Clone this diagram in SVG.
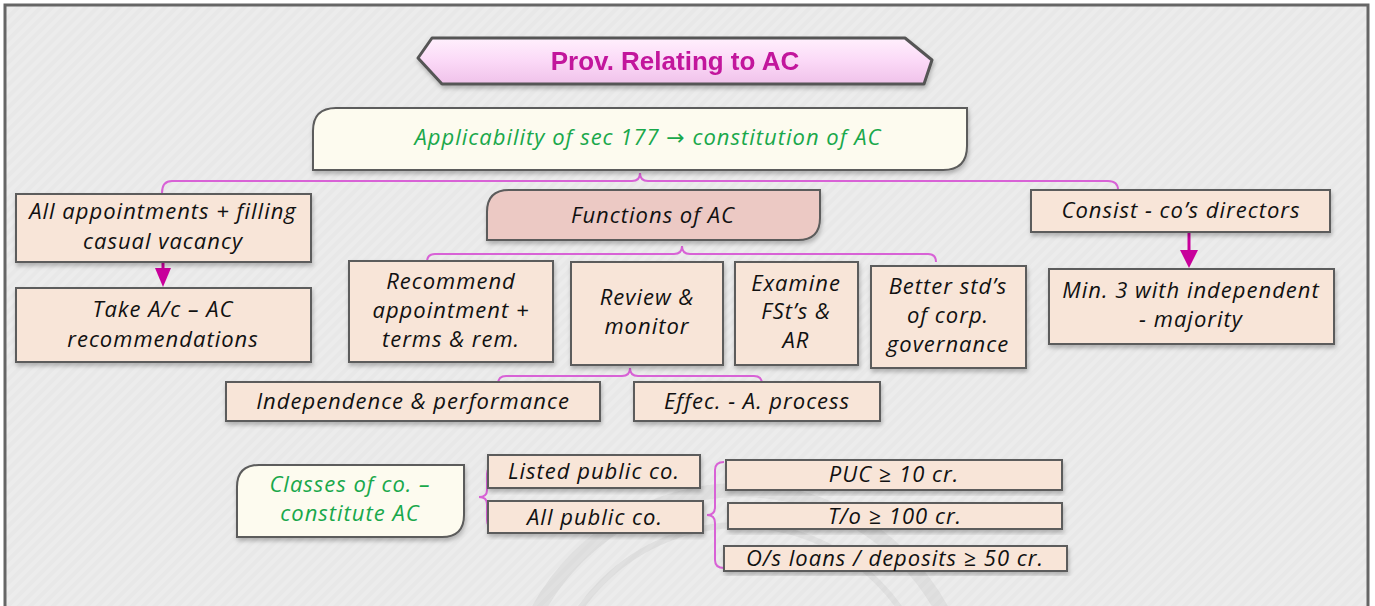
<svg xmlns="http://www.w3.org/2000/svg" width="1375" height="606" viewBox="0 0 1375 606">
<defs>
<pattern id="bgp" width="8" height="8" patternUnits="userSpaceOnUse" patternTransform="rotate(45)">
<rect width="8" height="8" fill="#ececec"/>
<rect width="4" height="8" fill="#e8e8e8"/>
</pattern>
<linearGradient id="tg" x1="0" y1="0" x2="0" y2="1">
<stop offset="0" stop-color="#fff0fd"/>
<stop offset="0.5" stop-color="#fbd9f7"/>
<stop offset="1" stop-color="#f0c2ea"/>
</linearGradient>
<filter id="sh" x="-10%" y="-10%" width="120%" height="130%">
<feDropShadow dx="1" dy="3" stdDeviation="2" flood-color="#000" flood-opacity="0.25"/>
</filter>
</defs>
<style>
.bx{fill:#f8e5d8;stroke:#5b5b5b;stroke-width:2;filter:url(#sh)}
.cr{fill:#fdfbef;stroke:#5b5b5b;stroke-width:2;filter:url(#sh)}
.fn{fill:#ecc9c4;stroke:#5b5b5b;stroke-width:2;filter:url(#sh)}
.t{font-family:"Open Sans","Noto Sans","DejaVu Sans",sans-serif;font-style:italic;font-size:22px;letter-spacing:1px;fill:#111;text-anchor:middle}
.g{fill:#19a84b}
.br{fill:none;stroke:#d862d6;stroke-width:2}
.ar{fill:#c8009b}
.al{stroke:#c8009b;stroke-width:3}
</style>
<rect x="0" y="0" width="1375" height="606" fill="#ffffff"/>
<rect x="5" y="5" width="1363" height="620" fill="url(#bgp)" stroke="#666" stroke-width="3"/>
<g id="watermark" fill="none" stroke="#bdbdbd" stroke-opacity="0.25">
<circle cx="740" cy="720" r="230" stroke-width="14"/>
<circle cx="740" cy="720" r="195" stroke-width="6"/>
</g>
<g id="title" filter="url(#sh)">
<path d="M432,38 L905,38 L932,60 L924,84 L442,84 L418,58 Z" fill="url(#tg)" stroke="#555" stroke-width="3" stroke-linejoin="round"/>
<text x="675" y="70" text-anchor="middle" font-family="'Liberation Sans',Arial,sans-serif" font-weight="bold" font-size="26" fill="#c2139c">Prov. Relating to AC</text>
</g>
<g id="connectors">
<path class="br" d="M162,193 Q162,181 172,181 L632,181 Q640,181 640,173 Q640,181 648,181 L1108,181 Q1118,181 1118,190"/>
<path class="br" d="M427,262 Q427,254 435,254 L674,254 Q682,254 682,246 Q682,254 690,254 L928,254 Q936,254 936,262"/>
<path class="br" d="M498,384 Q498,376 506,376 L622,376 Q630,376 630,368 Q630,376 638,376 L754,376 Q762,376 762,384"/>
<path class="br" d="M495,466 Q487,466 487,474 L487,490 Q487,497 479,497 Q487,497 487,504 L487,520 Q487,528 495,528"/>
<path class="br" d="M724,462 Q715,462 715,470 L715,507 Q715,515 707,515 Q715,515 715,523 L715,560 Q715,568 724,568"/>
<line class="al" x1="163" y1="262" x2="163" y2="272"/>
<polygon class="ar" points="155,268 171,268 163,287"/>
<line class="al" x1="1189" y1="232" x2="1189" y2="252"/>
<polygon class="ar" points="1180,250 1198,250 1189,268"/>
</g>
<g id="applicability">
<path class="cr" d="M336,108 L967,108 L967,146 Q967,170 943,170 L313,170 L313,131 Q313,108 336,108 Z"/>
<text class="t g" x="648" y="145" font-size="21">Applicability of sec 177 → constitution of AC</text>
</g>
<g id="all-appointments">
<rect class="bx" x="16" y="194" width="295" height="68"/>
<text class="t" x="163" y="219">All appointments + filling</text>
<text class="t" x="163" y="249">casual vacancy</text>
</g>
<g id="take-ac">
<rect class="bx" x="16" y="288" width="295" height="74"/>
<text class="t" x="163" y="317">Take A/c – AC</text>
<text class="t" x="163" y="347">recommendations</text>
</g>
<g id="functions">
<path class="fn" d="M509,190 L820,190 L820,218 Q820,240 798,240 L487,240 L487,212 Q487,190 509,190 Z"/>
<text class="t" x="653" y="223">Functions of AC</text>
</g>
<g id="recommend">
<rect class="bx" x="349" y="261" width="204" height="101"/>
<text class="t" x="451" y="289">Recommend</text>
<text class="t" x="451" y="318">appointment +</text>
<text class="t" x="451" y="347">terms &amp; rem.</text>
</g>
<g id="review">
<rect class="bx" x="571" y="262" width="152" height="103"/>
<text class="t" x="647" y="305">Review &amp;</text>
<text class="t" x="647" y="334">monitor</text>
</g>
<g id="examine">
<rect class="bx" x="735" y="262" width="123" height="103"/>
<text class="t" x="796" y="291">Examine</text>
<text class="t" x="796" y="319">FSt’s &amp;</text>
<text class="t" x="796" y="348">AR</text>
</g>
<g id="better">
<rect class="bx" x="871" y="266" width="155" height="102"/>
<text class="t" x="948" y="294">Better std’s</text>
<text class="t" x="948" y="323">of corp.</text>
<text class="t" x="948" y="352">governance</text>
</g>
<g id="independence">
<rect class="bx" x="226" y="382" width="374" height="39"/>
<text class="t" x="413" y="409">Independence &amp; performance</text>
</g>
<g id="effec">
<rect class="bx" x="634" y="382" width="246" height="39"/>
<text class="t" x="757" y="409">Effec. - A. process</text>
</g>
<g id="consist">
<rect class="bx" x="1031" y="190" width="299" height="42"/>
<text class="t" x="1181" y="218">Consist - co’s directors</text>
</g>
<g id="min3">
<rect class="bx" x="1049" y="269" width="285" height="75"/>
<text class="t" x="1191" y="298">Min. 3 with independent</text>
<text class="t" x="1191" y="327">- majority</text>
</g>
<g id="classes">
<path class="cr" d="M259,465 L464,465 L464,515 Q464,537 442,537 L237,537 L237,487 Q237,465 259,465 Z"/>
<text class="t g" x="350" y="492" font-size="21">Classes of co. –</text>
<text class="t g" x="350" y="521" font-size="21">constitute AC</text>
</g>
<g id="listed">
<rect class="bx" x="488" y="455" width="212" height="33"/>
<text class="t" x="594" y="479">Listed public co.</text>
</g>
<g id="all-public">
<rect class="bx" x="488" y="501" width="215" height="32"/>
<text class="t" x="595" y="525">All public co.</text>
</g>
<g id="puc">
<rect class="bx" x="726" y="460" width="336" height="30"/>
<text class="t" x="894" y="482">PUC ≥ 10 cr.</text>
</g>
<g id="turnover">
<rect class="bx" x="728" y="503" width="334" height="26"/>
<text class="t" x="895" y="524">T/o ≥ 100 cr.</text>
</g>
<g id="loans">
<rect class="bx" x="724" y="546" width="343" height="25"/>
<text class="t" x="895" y="566">O/s loans / deposits ≥ 50 cr.</text>
</g>
</svg>
